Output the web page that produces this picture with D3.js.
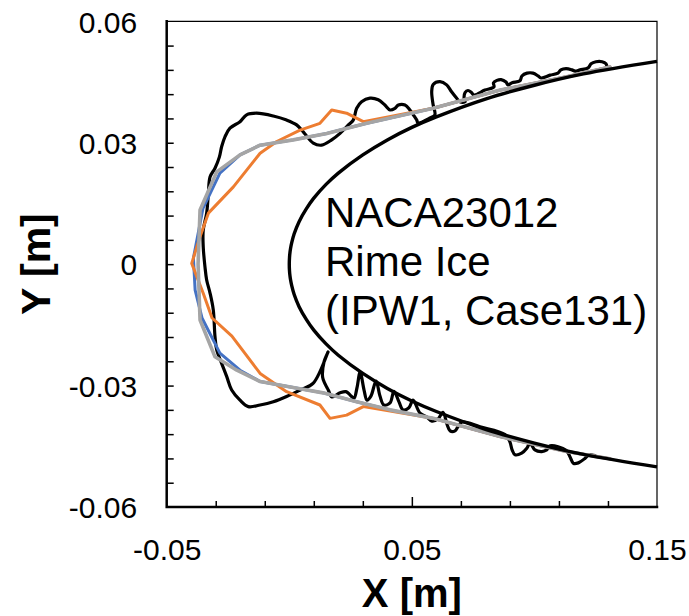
<!DOCTYPE html>
<html>
<head>
<meta charset="utf-8">
<script src="https://cdn.jsdelivr.net/npm/d3@7"></script>
<style>
  html, body { margin: 0; padding: 0; background: #fff; }
  svg { display: block; }
  text { font-family: "Liberation Sans", Arial, Helvetica, sans-serif; fill: #000; }
</style>
</head>
<body>
<svg id="chart" width="689" height="616"></svg>
<script>
// Axis ranges and ticks (metres)
const xDomain = [-0.05, 0.15];
const yDomain = [-0.06, 0.06];
const xLabelTicks = [-0.05, 0.05, 0.15];
const xLabelText = ["-0.05", "0.05", "0.15"];
const yLabelTicks = [0.06, 0.03, 0, -0.03, -0.06];
const yLabelText = ["0.06", "0.03", "0", "-0.03", "-0.06"];
const xMinorTicks = [-0.03, -0.01, 0.01, 0.03, 0.07, 0.09, 0.11, 0.13];
const xMajorInner = [0.05];
const yMinorTicks = [0.054, 0.048, 0.042, 0.036, 0.03, 0.024, 0.018, 0.012, 0.006, 0,
                     -0.006, -0.012, -0.018, -0.024, -0.03, -0.036, -0.042, -0.048, -0.054];

// Clean NACA23012 leading-edge contour [x, y]
const airfoil = [
  [0.15, 0.0501], [0.12, 0.0470], [0.10, 0.0442], [0.08, 0.0408], [0.06, 0.0364],
  [0.05, 0.0338], [0.04, 0.0307], [0.03, 0.0270], [0.02, 0.0225], [0.015, 0.0197],
  [0.01, 0.0163], [0.007, 0.0137], [0.004, 0.0105], [0.002, 0.0075], [0.001, 0.0053],
  [0.0005, 0.0038], [0.00025, 0.0027], [0.0001, 0.0017], [0, 0],
  [0.0001, -0.0017], [0.00025, -0.0027], [0.0005, -0.0038], [0.001, -0.0053],
  [0.002, -0.0075], [0.004, -0.0105], [0.007, -0.0137], [0.01, -0.0163],
  [0.015, -0.0197], [0.02, -0.0225], [0.03, -0.0270], [0.04, -0.0307], [0.05, -0.0338],
  [0.06, -0.0364], [0.08, -0.0408], [0.10, -0.0442], [0.12, -0.0470], [0.15, -0.0501]
];

// Experimental rime ice tracing [x, y]
const iceTracing = [
  [0.1296, 0.0487], [0.1292, 0.0495], [0.1276, 0.0500], [0.1251, 0.0500], [0.1231, 0.0495],
  [0.1219, 0.0485], [0.1186, 0.0480], [0.1166, 0.0477], [0.1153, 0.0480], [0.1129, 0.0483],
  [0.1108, 0.0480], [0.1096, 0.0472], [0.1064, 0.0467], [0.1027, 0.0460], [0.1015, 0.0465],
  [0.0994, 0.0472], [0.0970, 0.0472], [0.0949, 0.0465], [0.0941, 0.0453], [0.0909, 0.0448],
  [0.0892, 0.0443], [0.0884, 0.0450], [0.0864, 0.0456], [0.0847, 0.0454], [0.0833, 0.0448],
  [0.0835, 0.0438], [0.0798, 0.0430], [0.0753, 0.0418], [0.0743, 0.0424], [0.0729, 0.0429],
  [0.0717, 0.0424], [0.0713, 0.0411], [0.0717, 0.0401], [0.0696, 0.0401], [0.0683, 0.0410],
  [0.0662, 0.0426], [0.0642, 0.0443], [0.0615, 0.0451], [0.0587, 0.0444], [0.0581, 0.0426],
  [0.0587, 0.0393], [0.0594, 0.0369], [0.0574, 0.0361], [0.0525, 0.0349], [0.0520, 0.0356],
  [0.0506, 0.0369], [0.0492, 0.0381], [0.0472, 0.0393], [0.0445, 0.0393], [0.0431, 0.0385],
  [0.0411, 0.0381], [0.0390, 0.0393], [0.0363, 0.0406], [0.0329, 0.0410], [0.0295, 0.0401],
  [0.0275, 0.0385], [0.0261, 0.0356], [0.0241, 0.0344], [0.0207, 0.0323], [0.0173, 0.0307],
  [0.0132, 0.0294], [0.0098, 0.0299], [0.0057, 0.0327], [0.0030, 0.0344], [-0.0011, 0.0356],
  [-0.0065, 0.0366], [-0.0133, 0.0373], [-0.0174, 0.0369], [-0.0201, 0.0352], [-0.0242, 0.0336],
  [-0.0262, 0.0315], [-0.0276, 0.0290], [-0.0285, 0.0265], [-0.0303, 0.0237], [-0.0323, 0.0216],
  [-0.0330, 0.0175], [-0.0337, 0.0126], [-0.0351, 0.0084], [-0.0351, 0.0043], [-0.0344, -0.0006],
  [-0.0337, -0.0039], [-0.0323, -0.0072], [-0.0310, -0.0113], [-0.0303, -0.0179], [-0.0296, -0.0212],
  [-0.0276, -0.0245], [-0.0255, -0.0278], [-0.0235, -0.0311], [-0.0201, -0.0336], [-0.0167, -0.0352],
  [-0.0119, -0.0348], [-0.0065, -0.0340], [-0.0011, -0.0327], [0.0044, -0.0311], [0.0098, -0.0294],
  [0.0158, -0.0217], [0.0142, -0.0241], [0.0136, -0.0279], [0.0146, -0.0296], [0.0159, -0.0311],
  [0.0174, -0.0328], [0.0207, -0.0318], [0.0231, -0.0315], [0.0248, -0.0323], [0.0264, -0.0331],
  [0.0276, -0.0306], [0.0289, -0.0267], [0.0305, -0.0311], [0.0317, -0.0336], [0.0333, -0.0326],
  [0.0354, -0.0289], [0.0370, -0.0326], [0.0386, -0.0348], [0.0411, -0.0343], [0.0427, -0.0314],
  [0.0448, -0.0341], [0.0464, -0.0360], [0.0488, -0.0355], [0.0505, -0.0336], [0.0533, -0.0368],
  [0.0561, -0.0378], [0.0582, -0.0388], [0.0607, -0.0382], [0.0627, -0.0366], [0.0643, -0.0395],
  [0.0656, -0.0412], [0.0676, -0.0412], [0.0688, -0.0402], [0.0705, -0.0390], [0.0778, -0.0402],
  [0.0880, -0.0421], [0.0900, -0.0439], [0.0909, -0.0459], [0.0921, -0.0471], [0.0948, -0.0467],
  [0.0969, -0.0455], [0.0982, -0.0442], [0.1002, -0.0459], [0.1030, -0.0463], [0.1050, -0.0459],
  [0.1064, -0.0449], [0.1129, -0.0460], [0.1145, -0.0476], [0.1159, -0.0492], [0.1179, -0.0491],
  [0.1206, -0.0480], [0.1220, -0.0472], [0.1247, -0.0473]
];

// Computed ice shapes [x, y]
const iceBlue = [
  [0.1308, 0.0487], [0.1132, 0.0463], [0.0860, 0.0430], [0.0587, 0.0385], [0.0316, 0.0348],
  [0.0153, 0.0323], [0.0016, 0.0307], [-0.0119, 0.0294], [-0.0201, 0.0270], [-0.0283, 0.0225],
  [-0.0352, 0.0138], [-0.0391, 0.0015], [-0.0384, -0.0064], [-0.0356, -0.0133], [-0.0283, -0.0220],
  [-0.0201, -0.0262], [-0.0119, -0.0290], [0.0044, -0.0308], [0.0138, -0.0318], [0.0275, -0.0340],
  [0.0411, -0.0360], [0.0587, -0.0381], [0.0860, -0.0426], [0.1132, -0.0463], [0.1308, -0.0481]
];

const iceOrange = [
  [0.1308, 0.0487], [0.1132, 0.0463], [0.0860, 0.0430], [0.0587, 0.0385], [0.0302, 0.0352],
  [0.0234, 0.0373], [0.0173, 0.0381], [0.0125, 0.0348], [0.0044, 0.0331], [-0.0051, 0.0303],
  [-0.0119, 0.0274], [-0.0228, 0.0191], [-0.0330, 0.0126], [-0.0364, 0.0068], [-0.0398, 0.0002],
  [-0.0351, -0.0072], [-0.0315, -0.0133], [-0.0234, -0.0178], [-0.0119, -0.0270], [-0.0011, -0.0315],
  [0.0125, -0.0348], [0.0166, -0.0381], [0.0234, -0.0373], [0.0302, -0.0352], [0.0587, -0.0381],
  [0.0860, -0.0426], [0.1132, -0.0463], [0.1308, -0.0481]
];

const iceGray = [
  [0.1308, 0.0487], [0.1132, 0.0463], [0.0860, 0.0430], [0.0587, 0.0385], [0.0316, 0.0348],
  [0.0153, 0.0323], [0.0016, 0.0307], [-0.0119, 0.0294], [-0.0201, 0.0270], [-0.0296, 0.0228],
  [-0.0364, 0.0134], [-0.0372, 0.0000], [-0.0364, -0.0138], [-0.0303, -0.0229], [-0.0214, -0.0262],
  [-0.0119, -0.0290], [0.0044, -0.0308], [0.0138, -0.0318], [0.0275, -0.0340], [0.0411, -0.0360],
  [0.0587, -0.0381], [0.0860, -0.0426], [0.1132, -0.0463], [0.1308, -0.0481]
];

const noteLines = ["NACA23012", "Rime Ice", "(IPW1, Case131)"];

// Layout
const plot = { left: 166.7, right: 657, top: 21.3, bottom: 507 };

const svg = d3.select("#chart");
const x = d3.scaleLinear().domain(xDomain).range([plot.left, plot.right]);
const y = d3.scaleLinear().domain(yDomain).range([plot.bottom, plot.top]);

const smooth = d3.line().x(d => x(d[0])).y(d => y(d[1])).curve(d3.curveCatmullRom.alpha(0.5));
const straight = d3.line().x(d => x(d[0])).y(d => y(d[1]));

svg.append("defs").append("clipPath").attr("id", "plotClip")
  .append("rect").attr("x", plot.left).attr("y", plot.top - 2)
  .attr("width", plot.right - plot.left + 4).attr("height", plot.bottom - plot.top + 2);

// Frame: thin top/right border
svg.append("path")
  .attr("d", `M${plot.left},${plot.top}H${plot.right}V${plot.bottom}`)
  .attr("fill", "none").attr("stroke", "#000").attr("stroke-width", 1.2);

const marks = svg.append("g").attr("clip-path", "url(#plotClip)");

const drawLine = (data, gen, color, width) => marks.append("path")
  .datum(data)
  .attr("d", gen)
  .attr("fill", "none")
  .attr("stroke", color)
  .attr("stroke-width", width)
  .attr("stroke-linejoin", "round")
  .attr("stroke-linecap", "round");

drawLine(iceTracing, smooth, "#000", 3.2);
drawLine(iceBlue, straight, "#4472C4", 3);
drawLine(iceOrange, straight, "#ED7D31", 3);
drawLine(iceGray, straight, "#A5A5A5", 3.6);
svg.append("path").datum(airfoil).attr("d", smooth)
  .attr("fill", "none").attr("stroke", "#000").attr("stroke-width", 3.4)
  .attr("stroke-linejoin", "round");

// Axes
const xAxisG = svg.append("g").attr("transform", `translate(0,${plot.bottom})`);
xAxisG.append("g").call(d3.axisBottom(x).tickValues(xMinorTicks).tickSize(-6).tickFormat(""))
  .call(g => g.select(".domain").remove())
  .call(g => g.selectAll("line").attr("stroke-width", 1.5));
xAxisG.append("g").call(d3.axisBottom(x).tickValues(xMajorInner).tickSize(-10).tickFormat(""))
  .call(g => g.select(".domain").remove())
  .call(g => g.selectAll("line").attr("stroke-width", 1.5));
xAxisG.append("g")
  .call(d3.axisBottom(x).tickValues(xLabelTicks).tickSize(0)
    .tickFormat((d, i) => xLabelText[i]))
  .call(g => g.select(".domain").remove())
  .call(g => g.selectAll("text")
    .attr("y", 53).attr("dy", 0)
    .style("font-size", "30px")
    .style("font-family", "'Liberation Sans', Arial, sans-serif")
    .attr("fill", "#000"));

const yAxisG = svg.append("g").attr("transform", `translate(${plot.left},0)`);
yAxisG.append("g").call(d3.axisLeft(y).tickValues(yMinorTicks).tickSize(-7).tickFormat(""))
  .call(g => g.select(".domain").remove())
  .call(g => g.selectAll("line").attr("stroke-width", 1.5));
yAxisG.append("g")
  .call(d3.axisLeft(y).tickValues(yLabelTicks).tickSize(0)
    .tickFormat((d, i) => yLabelText[i]))
  .call(g => g.select(".domain").remove())
  .call(g => g.selectAll("text")
    .attr("x", -29.5).attr("dy", "0.36em")
    .style("font-size", "30px")
    .style("font-family", "'Liberation Sans', Arial, sans-serif")
    .attr("fill", "#000"));

// Thick left and bottom axis lines
svg.append("path")
  .attr("d", `M${plot.left},${plot.top}V${plot.bottom}H${plot.right}`)
  .attr("fill", "none").attr("stroke", "#000").attr("stroke-width", 2.5)
  .attr("stroke-linecap", "square");

// Axis titles
svg.append("text")
  .attr("x", (plot.left + plot.right) / 2).attr("y", 607)
  .attr("text-anchor", "middle")
  .style("font-size", "40px").style("font-weight", "bold")
  .text("X [m]");

svg.append("text")
  .attr("transform", `translate(50,${(plot.top + plot.bottom) / 2}) rotate(-90)`)
  .attr("text-anchor", "middle")
  .style("font-size", "41px").style("font-weight", "bold")
  .text("Y [m]");

// Case annotation
svg.append("g").selectAll("text").data(noteLines).join("text")
  .attr("x", 325)
  .attr("y", (d, i) => 227 + i * 49)
  .style("font-size", "42px")
  .text(d => d);
</script>
</body>
</html>
